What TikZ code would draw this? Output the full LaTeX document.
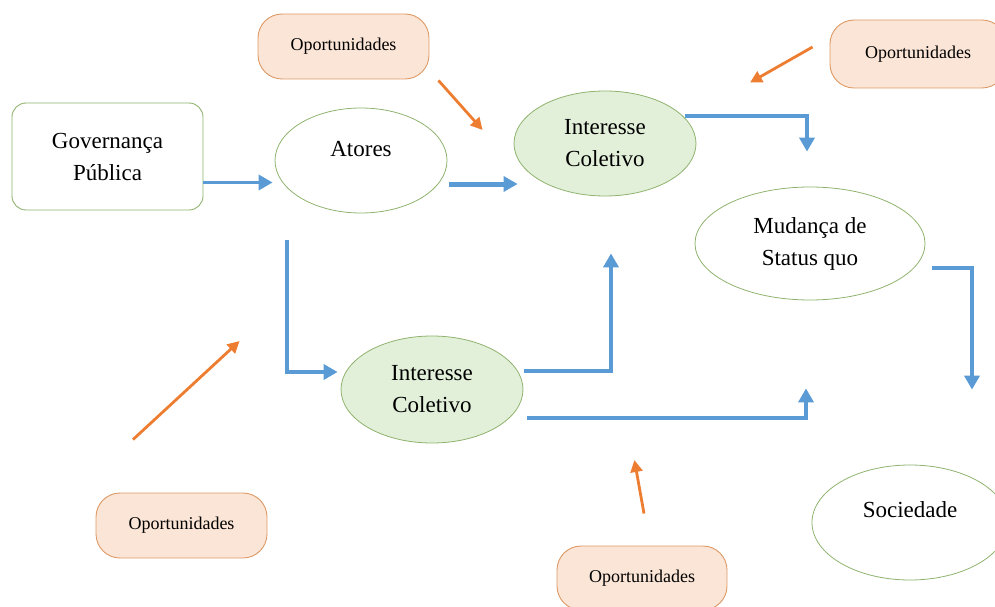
\documentclass[tikz,border=0pt]{standalone}
\usepackage{fontspec}
\setmainfont{Liberation Serif}
\usepackage{xcolor}
\usepackage{tikz}
\usetikzlibrary{arrows.meta,positioning,shapes.geometric,calc}
\definecolor{flowblue}{HTML}{5B9BD5}
\definecolor{pushorange}{HTML}{ED7D31}
\definecolor{oppline}{HTML}{DE9A66}
\definecolor{oppfill}{HTML}{FBE5D6}
\definecolor{grnline}{HTML}{8FB36E}
\definecolor{grnfill}{HTML}{E2F0D9}

\begin{document}
\begin{tikzpicture}[
    x=1pt, y=-1pt,
    actor/.style={ellipse, draw=grnline, line width=0.8pt, inner sep=0pt, align=center, font=\fontsize{23}{32}\selectfont},
    interest/.style={actor, fill=grnfill},
    govbox/.style={rectangle, rounded corners=14pt, draw=grnline, line width=0.9pt, align=center, minimum width=191pt, minimum height=107pt, font=\fontsize{23}{32}\selectfont},
    chance/.style={rectangle, rounded corners=24pt, draw=oppline, fill=oppfill, line width=0.9pt, minimum width=171pt, minimum height=65pt, font=\fontsize{18}{20}\selectfont},
    flow/.style={-{Triangle[length=14pt,width=15pt]}, flowblue, line width=3.5pt},
    push/.style={-{Triangle[length=12pt,width=12pt]}, pushorange, line width=2.8pt}
]
    \useasboundingbox (0,0) rectangle (995,607);

    % Nodes
    \node[govbox] (gov) at (107.5,156.5) {Governança\\Pública};
    \node[actor, minimum width=172pt, minimum height=105pt, text depth=24pt] (atores) at (361,160.5) {Atores};
    \node[interest, minimum width=182pt, minimum height=105pt] (inttop) at (605,143.5) {Interesse\\Coletivo};
    \node[interest, minimum width=182pt, minimum height=107pt] (intbot) at (432,389.5) {Interesse\\Coletivo};
    \node[actor, minimum width=230pt, minimum height=113pt] (mud) at (810,243.5) {Mudança de\\Status quo};
    \node[actor, minimum width=196pt, minimum height=115pt, text depth=26pt] (soc) at (910,522.5) {Sociedade};

    % Oportunidades
    \node[chance] (optl) at (343.5,46.5) {Oportunidades};
    \node[chance, minimum width=176pt, minimum height=68pt] (optr) at (918,54) {Oportunidades};
    \node[chance] (opbl) at (181.5,525.5) {Oportunidades};
    \node[chance, minimum width=170pt, minimum height=64pt] (opb) at (642,578) {Oportunidades};

    % Blue flows
    \draw[flow] ($(gov.east)+(0,26)$) -- ($(atores.west)+(-2,22)$);
    \draw[flow, line width=5pt] ($(atores.east)+(2,23.5)$) -- ($(inttop.west)+(4,40.5)$);
    \draw[flow] ($(inttop.center)+(80,-27.5)$) -| ($(mud.north)+(-3,-35)$);
    \draw[flow] ($(mud.east)+(7,24.5)$) -| ($(soc.north)+(62,-75)$);
    \draw[flow] ($(atores.south)+(-74,27)$) |- ($(intbot.west)+(-3,-17.5)$);
    \draw[flow] ($(intbot.east)+(1,-18.5)$) -| ($(inttop.south)+(6,57)$);
    \draw[flow] ($(intbot.east)+(4,28.5)$) -| ($(mud.south)+(-4,88)$);

    % Orange pushes
    \draw[push] ($(optl.south east)+(9,1)$) -- ($(inttop.west)+(-31,-13.5)$);
    \draw[push] ($(optr.west)+(-17,-7)$) -- ($(inttop.north)+(145,-8)$);
    \draw[push] ($(opbl.north)+(-48.5,-53)$) -- ($(intbot.west)+(-101,-48.5)$);
    \draw[push] ($(opb.north)+(2,-32)$) -- ($(intbot.east)+(111,70.5)$);

\end{tikzpicture}
\end{document}
